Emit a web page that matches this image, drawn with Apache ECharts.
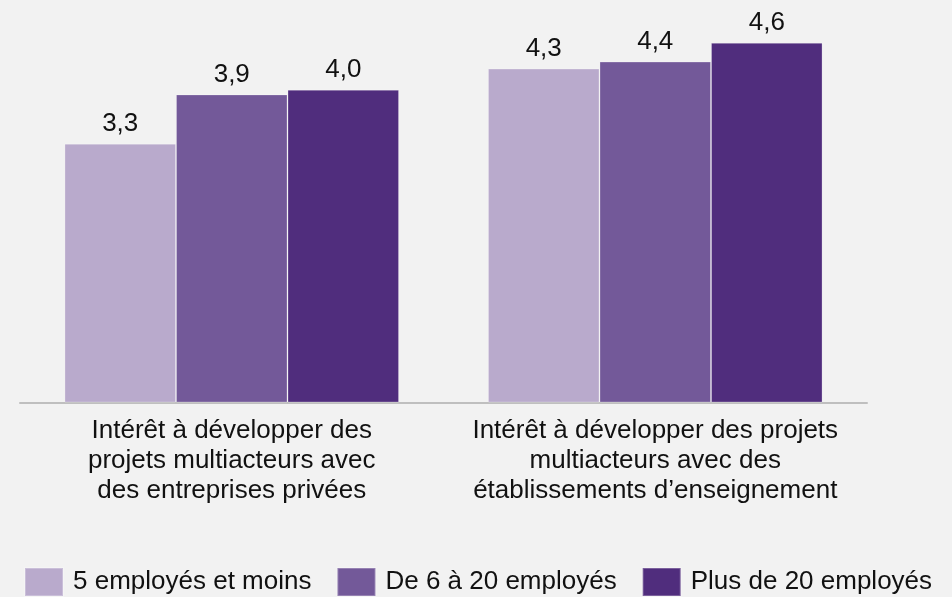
<!DOCTYPE html>
<html>
<head>
<meta charset="utf-8">
<script src="https://cdn.jsdelivr.net/npm/echarts@6/dist/echarts.min.js"></script>
<style>
  html, body { margin: 0; padding: 0; background: #f2f2f2; }
  #main { width: 952px; height: 597px; }
</style>
</head>
<body>
<div id="main"></div>
<script>
var categories = [
  'Intérêt à développer des\nprojets multiacteurs avec\ndes entreprises privées',
  'Intérêt à développer des projets\nmultiacteurs avec des\nétablissements d\u2019enseignement'
];
var seriesNames = ['5 employés et moins', 'De 6 à 20 employés', 'Plus de 20 employés'];
// bar heights (labels show them rounded to one decimal)
var small = [3.31, 4.27];   // 5 employés et moins
var medium = [3.94, 4.36];  // De 6 à 20 employés
var large = [4.0, 4.6];     // Plus de 20 employés
var colors = ['#b9aacc', '#735999', '#502d7d'];

var myChart = echarts.init(document.getElementById('main'));
var font = 'Arial, "Liberation Sans", sans-serif';

function bar(name, data, color) {
  return {
    name: name,
    type: 'bar',
    data: data,
    barGap: 0,
    barCategoryGap: '21%',
    itemStyle: { color: color, borderColor: 'rgba(255,255,255,0.25)', borderWidth: 1 },
    label: {
      show: true,
      position: 'top',
      distance: 7,
      color: '#111',
      fontSize: 26,
      fontFamily: font,
      formatter: function(p) { return p.value.toFixed(1).replace('.', ','); }
    }
  };
}

var option = {
  backgroundColor: '#f2f2f2',
  animation: false,
  grid: { left: 20, right: 85, top: 11.5, bottom: 194.5 },
  legend: {
    data: seriesNames,
    left: 24,
    top: 567,
    padding: 0,
    itemWidth: 38,
    itemHeight: 28,
    itemGap: 25,
    icon: 'rect',
    textStyle: { fontSize: 26, fontFamily: font, color: '#111', padding: [0, 0, 0, 5] }
  },
  xAxis: {
    type: 'category',
    data: categories,
    axisLine: { lineStyle: { color: '#bfbfbf', width: 2 } },
    axisTick: { show: false },
    axisLabel: {
      margin: 13,
      fontSize: 26,
      lineHeight: 30,
      fontFamily: font,
      color: '#111',
      interval: 0
    }
  },
  yAxis: {
    type: 'value',
    min: 0,
    max: 5,
    show: false,
    splitLine: { show: false }
  },
  series: [
    bar(seriesNames[0], small, colors[0]),
    bar(seriesNames[1], medium, colors[1]),
    bar(seriesNames[2], large, colors[2])
  ]
};
myChart.setOption(option);
</script>
</body>
</html>
